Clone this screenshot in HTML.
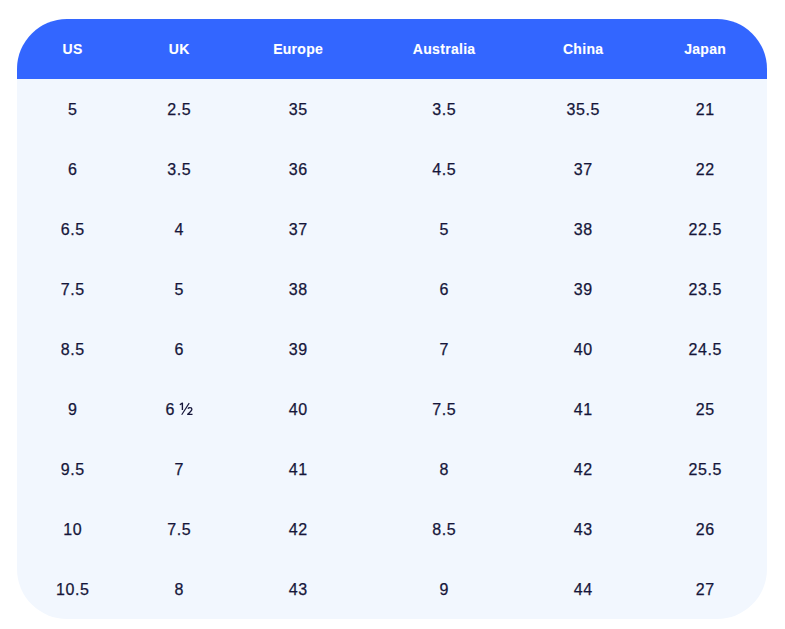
<!DOCTYPE html>
<html><head><meta charset="utf-8">
<style>
html,body{margin:0;padding:0;background:#fff;}
body{width:785px;height:629px;overflow:hidden;position:relative;font-family:"Liberation Sans",sans-serif;}
.t{position:absolute;left:17px;top:19px;width:750px;height:600px;border-radius:50px;overflow:hidden;background:#f2f7fe;}
.h{position:absolute;left:0;top:0;width:100%;height:60px;background:#3366ff;}
.c{position:absolute;text-align:center;white-space:nowrap;width:140px;}
.h .c{color:#fff;font-weight:bold;font-size:14px;top:20px;line-height:20px;letter-spacing:0.3px;-webkit-text-stroke:0.1px #fff;text-indent:0.3px;}
.b .c{color:#16163a;font-size:16px;line-height:20px;letter-spacing:0.6px;-webkit-text-stroke:0.25px #16163a;text-indent:0.6px;}
</style></head><body>
<div class="t">
<div class="h">
<div class="c" style="left:-14.5px">US</div>
<div class="c" style="left:92px">UK</div>
<div class="c" style="left:211px">Europe</div>
<div class="c" style="left:357px">Australia</div>
<div class="c" style="left:496px">China</div>
<div class="c" style="left:618px">Japan</div>
</div>
<div class="b">
<div class="c" style="left:-14.5px;top:81px">5</div>
<div class="c" style="left:92px;top:81px">2.5</div>
<div class="c" style="left:211px;top:81px">35</div>
<div class="c" style="left:357px;top:81px">3.5</div>
<div class="c" style="left:496px;top:81px">35.5</div>
<div class="c" style="left:618px;top:81px">21</div>
<div class="c" style="left:-14.5px;top:141px">6</div>
<div class="c" style="left:92px;top:141px">3.5</div>
<div class="c" style="left:211px;top:141px">36</div>
<div class="c" style="left:357px;top:141px">4.5</div>
<div class="c" style="left:496px;top:141px">37</div>
<div class="c" style="left:618px;top:141px">22</div>
<div class="c" style="left:-14.5px;top:201px">6.5</div>
<div class="c" style="left:92px;top:201px">4</div>
<div class="c" style="left:211px;top:201px">37</div>
<div class="c" style="left:357px;top:201px">5</div>
<div class="c" style="left:496px;top:201px">38</div>
<div class="c" style="left:618px;top:201px">22.5</div>
<div class="c" style="left:-14.5px;top:261px">7.5</div>
<div class="c" style="left:92px;top:261px">5</div>
<div class="c" style="left:211px;top:261px">38</div>
<div class="c" style="left:357px;top:261px">6</div>
<div class="c" style="left:496px;top:261px">39</div>
<div class="c" style="left:618px;top:261px">23.5</div>
<div class="c" style="left:-14.5px;top:321px">8.5</div>
<div class="c" style="left:92px;top:321px">6</div>
<div class="c" style="left:211px;top:321px">39</div>
<div class="c" style="left:357px;top:321px">7</div>
<div class="c" style="left:496px;top:321px">40</div>
<div class="c" style="left:618px;top:321px">24.5</div>
<div class="c" style="left:-14.5px;top:381px">9</div>
<div class="c" style="left:148px;top:381px;width:auto">6</div>
<div class="c" style="left:211px;top:381px">40</div>
<div class="c" style="left:357px;top:381px">7.5</div>
<div class="c" style="left:496px;top:381px">41</div>
<div class="c" style="left:618px;top:381px">25</div>
<div class="c" style="left:-14.5px;top:441px">9.5</div>
<div class="c" style="left:92px;top:441px">7</div>
<div class="c" style="left:211px;top:441px">41</div>
<div class="c" style="left:357px;top:441px">8</div>
<div class="c" style="left:496px;top:441px">42</div>
<div class="c" style="left:618px;top:441px">25.5</div>
<div class="c" style="left:-14.5px;top:501px">10</div>
<div class="c" style="left:92px;top:501px">7.5</div>
<div class="c" style="left:211px;top:501px">42</div>
<div class="c" style="left:357px;top:501px">8.5</div>
<div class="c" style="left:496px;top:501px">43</div>
<div class="c" style="left:618px;top:501px">26</div>
<div class="c" style="left:-14.5px;top:561px">10.5</div>
<div class="c" style="left:92px;top:561px">8</div>
<div class="c" style="left:211px;top:561px">43</div>
<div class="c" style="left:357px;top:561px">9</div>
<div class="c" style="left:496px;top:561px">44</div>
<div class="c" style="left:618px;top:561px">27</div>
</div>
</div>
<svg style="position:absolute;left:176px;top:400px" width="20" height="18" viewBox="176 400 20 18" fill="none" stroke="#16163a" stroke-linecap="butt" stroke-linejoin="round"><path d="M179.8,404.7 L182.4,403.1 L182.4,409.9" stroke-width="1.35"/><path d="M189.2,403.1 L181.7,414.8" stroke-width="1.15"/><path d="M187.9,408.7 C188.4,407.9 189.2,407.6 190,407.6 C191.1,407.6 191.9,408.3 191.9,409.3 C191.9,410.5 190.7,411.6 187.7,414.3 L192.5,414.3" stroke-width="1.3"/></svg>
</body></html>
